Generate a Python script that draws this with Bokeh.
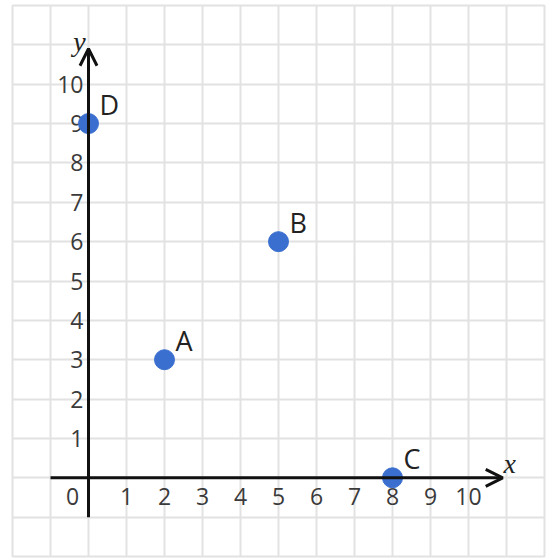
from bokeh.plotting import figure
from bokeh.models import Range1d, Grid, SingleIntervalTicker, Arrow, OpenHead, ColumnDataSource
from bokeh.core.properties import value
from bokeh.embed import file_html
from bokeh.resources import INLINE

# ---- data ----
point_names = ["A", "B", "C", "D"]
point_x = [2, 5, 8, 0]
point_y = [3, 6, 0, 9]

x_tick_values = [1, 2, 3, 4, 5, 6, 7, 8, 9, 10]
x_tick_labels = ["1", "2", "3", "4", "5", "6", "7", "8", "9", "10"]
y_tick_values = [1, 2, 3, 4, 5, 6, 7, 8, 9, 10]
y_tick_labels = ["1", "2", "3", "4", "5", "6", "7", "8", "9", "10"]
origin_label = ["0"]

grid_min, grid_max = -2, 12
axis_start = -1
axis_end = 10.9

GRID = "#e2e2e2"
BLUE = "#3b6fcf"
TEXT = "#3a3a3a"

p = figure(width=551, height=558,
           x_range=Range1d(grid_min, grid_max), y_range=Range1d(grid_min, grid_max),
           x_axis_location=None, y_axis_location=None,
           output_backend="svg", toolbar_location=None,
           min_border_left=12, min_border_right=7, min_border_top=5, min_border_bottom=2,
           background_fill_color="white", border_fill_color="white")

p.grid.visible = False
for dim in (0, 1):
    g = Grid(dimension=dim, ticker=SingleIntervalTicker(interval=1),
             grid_line_color=GRID, grid_line_width=2)
    p.add_layout(g, "center")
p.outline_line_color = GRID
p.outline_line_width = 2

# axes with arrows
p.add_layout(Arrow(x_start=axis_start, y_start=0, x_end=axis_end, y_end=0,
                   line_width=3, line_color="#111111",
                   end=OpenHead(size=17, line_width=3, line_color="#111111")))
p.add_layout(Arrow(x_start=0, y_start=axis_start, x_end=0, y_end=axis_end,
                   line_width=3, line_color="#111111",
                   end=OpenHead(size=17, line_width=3, line_color="#111111")))

# tick labels
p.text(x=x_tick_values, y=[0] * len(x_tick_values), text=x_tick_labels,
       text_font=value("Open Sans"), text_font_size="23px", text_color=TEXT,
       text_align="center", text_baseline="middle", y_offset=19)
p.text(x=[0], y=[0], text=origin_label,
       text_font=value("Open Sans"), text_font_size="23px", text_color=TEXT,
       text_align="center", text_baseline="middle", y_offset=19, x_offset=-16)
p.text(x=[0] * len(y_tick_values), y=y_tick_values, text=y_tick_labels,
       text_font=value("Open Sans"), text_font_size="23px", text_color=TEXT,
       text_align="right", text_baseline="middle", x_offset=-5)

# axis titles
p.text(x=[axis_end], y=[0], text=["x"], text_font=value("Liberation Serif"),
       text_font_style="italic", text_font_size="28px", text_color="#222222",
       text_align="center", text_baseline="middle", x_offset=7, y_offset=-14)
p.text(x=[0], y=[axis_end], text=["y"], text_font=value("Liberation Serif"),
       text_font_style="italic", text_font_size="28px", text_color="#222222",
       text_align="center", text_baseline="middle", x_offset=-9, y_offset=-7)

# points
src = ColumnDataSource(dict(x=point_x, y=point_y, name=point_names))
p.scatter("x", "y", source=src, size=20, fill_color=BLUE, line_color=BLUE)
p.text("x", "y", text="name", source=src, text_font=value("Open Sans"),
       text_font_size="27px", text_color="#222222",
       text_align="left", text_baseline="middle", x_offset=11, y_offset=-19)

open("out.html", "w").write(file_html(p, INLINE))
